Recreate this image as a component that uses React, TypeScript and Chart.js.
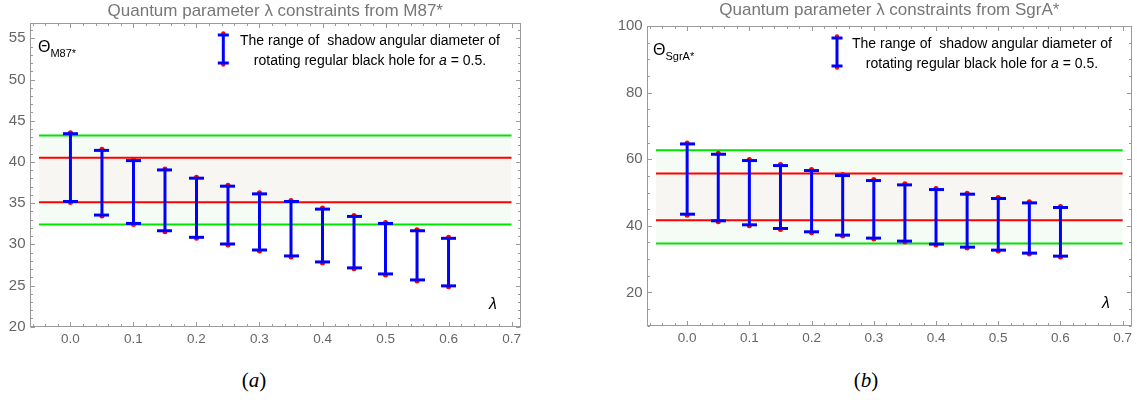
import React, { useEffect, useRef } from "react";
import { Chart, registerables } from "chart.js";

Chart.register(...registerables);
Chart.defaults.font.family = '"Liberation Sans", Arial, sans-serif';

// ---------------- data ----------------
const lambdaValues = [0, 0.05, 0.1, 0.15, 0.2, 0.25, 0.3, 0.35, 0.4, 0.45, 0.5, 0.55, 0.6];

const m87Upper = [43.55, 41.53, 40.28, 39.15, 38.15, 37.18, 36.25, 35.32, 34.4, 33.51, 32.66, 31.77, 30.85];
const m87Lower = [35.08, 33.43, 32.42, 31.53, 30.73, 29.92, 29.19, 28.47, 27.74, 27.02, 26.29, 25.56, 24.84];
const m87OneSigma = [35.1, 40.5];
const m87TwoSigma = [32.4, 43.2];

const sgrUpper = [64.9, 61.8, 59.9, 58.4, 56.9, 55.4, 53.9, 52.6, 51.2, 49.8, 48.5, 47.2, 45.8];
const sgrLower = [43.2, 41.2, 40.0, 38.9, 37.9, 36.9, 36.0, 35.1, 34.2, 33.3, 32.4, 31.5, 30.6];
const sgrOneSigma = [41.7, 55.7];
const sgrTwoSigma = [34.7, 62.7];

const bandRange = [-0.05, 0.7];
const xTickValues = [0, 0.1, 0.2, 0.3, 0.4, 0.5, 0.6, 0.7];
const m87YTicks = [20, 25, 30, 35, 40, 45, 50, 55];
const sgrYTicks = [20, 40, 60, 80, 100];

const legendLine1 = "The range of  shadow angular diameter of";
const legendLine2a = "rotating regular black hole for ";
const legendLine2b = "a";
const legendLine2c = " = 0.5.";

// ---------------- styles ----------------
const BLUE = "#0000ff";
const RED = "#ff0000";
const GREEN = "#00e400";
const GREEN_FILL = "#f5fcf5";
const RED_FILL = "#f8f6f2";
const FRAME = "#9a9a9a";
const FONT = '"Liberation Sans", Arial, sans-serif';
const LEGEND_SIZE = 14;

type PanelSpec = {
  left: number;
  width: number;
  height: number;
  title: string;
  upper: number[];
  lower: number[];
  oneSigma: number[];
  twoSigma: number[];
  yMin: number;
  yMax: number;
  yTicks: number[];
  yMinor: number;
  yMajor: number;
  padRight: number;
  titlePad: { top: number; bottom: number };
  yWidth: number;
  xHeight: number;
  legendIconX: number;
  legendTop: number;
  legendBottom: number;
  legendCX: number;
  legendBase1: number;
  legendBase2: number;
  thetaX: number;
  thetaBase: number;
  thetaSub: string;
  lambdaX: number;
  lambdaY: number;
};

const m87Spec: PanelSpec = {
  left: 0,
  width: 560,
  height: 360,
  title: "Quantum parameter \u03bb constraints from M87*",
  upper: m87Upper,
  lower: m87Lower,
  oneSigma: m87OneSigma,
  twoSigma: m87TwoSigma,
  yMin: 20,
  yMax: 56.9,
  yTicks: m87YTicks,
  yMinor: 1,
  yMajor: 5,
  padRight: 39,
  titlePad: { top: 1.3, bottom: 1.0 },
  yWidth: 29.5,
  xHeight: 33.3,
  legendIconX: 223.3,
  legendTop: 34.5,
  legendBottom: 63.5,
  legendCX: 370,
  legendBase1: 45,
  legendBase2: 65,
  thetaX: 38,
  thetaBase: 52,
  thetaSub: "M87*",
  lambdaX: 493,
  lambdaY: 305,
};

const sgrSpec: PanelSpec = {
  left: 600,
  width: 537,
  height: 360,
  title: "Quantum parameter \u03bb constraints from SgrA*",
  upper: sgrUpper,
  lower: sgrLower,
  oneSigma: sgrOneSigma,
  twoSigma: sgrTwoSigma,
  yMin: 10,
  yMax: 100,
  yTicks: sgrYTicks,
  yMinor: 5,
  yMajor: 20,
  padRight: 4,
  titlePad: { top: 0, bottom: 5.6 },
  yWidth: 46.7,
  xHeight: 34.3,
  legendIconX: 237,
  legendTop: 37.5,
  legendBottom: 66.5,
  legendCX: 382,
  legendBase1: 48.3,
  legendBase2: 68.3,
  thetaX: 53,
  thetaBase: 55,
  thetaSub: "SgrA*",
  lambdaX: 506,
  lambdaY: 304,
};

function makeCap(offset: number): HTMLCanvasElement {
  const c = document.createElement("canvas");
  c.width = 15;
  c.height = 9;
  const g = c.getContext("2d")!;
  g.fillStyle = BLUE;
  // cap bar of 3px thickness, shifted from centre by offset px
  g.fillRect(0, 3 + offset, 15, 3);
  return c;
}

function decorPlugin(spec: PanelSpec) {
  return {
    id: "decor",
    afterDraw(chart: any) {
      const { ctx, chartArea: a } = chart;
      const xs = chart.scales.x;
      const ys = chart.scales.y;
      ctx.save();
      // frame
      ctx.strokeStyle = FRAME;
      ctx.lineWidth = 1;
      const L = Math.round(a.left) + 0.5;
      const R = Math.round(a.right) - 0.5;
      const T = Math.round(a.top) + 0.5;
      const B = Math.round(a.bottom) - 0.5;
      ctx.strokeRect(L, T, R - L, B - T);
      ctx.beginPath();
      // x ticks (bottom & top)
      const xStep = 0.02;
      const xMajor = 0.1;
      for (let k = Math.ceil(xs.min / xStep - 1e-6); k * xStep <= xs.max + 1e-9; k++) {
        const v = k * xStep;
        const major = Math.abs(v / xMajor - Math.round(v / xMajor)) < 1e-6;
        const len = major ? 4.5 : 2.5;
        const p = Math.round(xs.getPixelForValue(v)) + 0.5;
        ctx.moveTo(p, B);
        ctx.lineTo(p, B - len);
        ctx.moveTo(p, T);
        ctx.lineTo(p, T + len);
      }
      // y ticks (left & right)
      for (let k = Math.ceil(ys.min / spec.yMinor - 1e-6); k * spec.yMinor <= ys.max + 1e-9; k++) {
        const v = k * spec.yMinor;
        const major = Math.abs(v / spec.yMajor - Math.round(v / spec.yMajor)) < 1e-6;
        const len = major ? 4.5 : 2.5;
        const p = Math.round(ys.getPixelForValue(v)) + 0.5;
        ctx.moveTo(L, p);
        ctx.lineTo(L + len, p);
        ctx.moveTo(R, p);
        ctx.lineTo(R - len, p);
      }
      ctx.stroke();

      // Theta label
      ctx.fillStyle = "#000";
      ctx.textAlign = "left";
      ctx.textBaseline = "alphabetic";
      ctx.font = `16px ${FONT}`;
      ctx.fillText("\u0398", spec.thetaX, spec.thetaBase);
      const tw = ctx.measureText("\u0398").width;
      ctx.font = `11px ${FONT}`;
      ctx.fillText(spec.thetaSub, spec.thetaX + tw, spec.thetaBase + 4.5);

      // lambda axis label
      ctx.font = `italic 16px ${FONT}`;
      ctx.textAlign = "center";
      ctx.textBaseline = "middle";
      ctx.fillText("\u03bb", spec.lambdaX, spec.lambdaY);

      // legend icon
      const ix = spec.legendIconX;
      ctx.fillStyle = RED;
      ctx.beginPath();
      ctx.arc(ix, spec.legendTop - 1, 2.2, 0, Math.PI * 2);
      ctx.arc(ix, spec.legendBottom + 1, 2.2, 0, Math.PI * 2);
      ctx.fill();
      ctx.strokeStyle = BLUE;
      ctx.lineWidth = 3;
      ctx.beginPath();
      ctx.moveTo(ix, spec.legendTop);
      ctx.lineTo(ix, spec.legendBottom);
      ctx.stroke();
      ctx.fillStyle = BLUE;
      ctx.fillRect(ix - 5.5, spec.legendTop - 1, 11, 3);
      ctx.fillRect(ix - 5.5, spec.legendBottom - 2, 11, 3);

      // legend text
      ctx.fillStyle = "#000";
      ctx.textBaseline = "alphabetic";
      ctx.textAlign = "center";
      ctx.font = `${LEGEND_SIZE}px ${FONT}`;
      ctx.fillText(legendLine1, spec.legendCX, spec.legendBase1);
      ctx.textAlign = "left";
      const wA = ctx.measureText(legendLine2a).width;
      const wC = ctx.measureText(legendLine2c).width;
      ctx.font = `italic ${LEGEND_SIZE}px ${FONT}`;
      const wB = ctx.measureText(legendLine2b).width;
      let sx = spec.legendCX - (wA + wB + wC) / 2;
      ctx.font = `${LEGEND_SIZE}px ${FONT}`;
      ctx.fillText(legendLine2a, sx, spec.legendBase2);
      sx += wA;
      ctx.font = `italic ${LEGEND_SIZE}px ${FONT}`;
      ctx.fillText(legendLine2b, sx, spec.legendBase2);
      sx += wB;
      ctx.font = `${LEGEND_SIZE}px ${FONT}`;
      ctx.fillText(legendLine2c, sx, spec.legendBase2);
      ctx.restore();
    },
  };
}

function buildConfig(spec: PanelSpec, capUp: HTMLCanvasElement, capDown: HTMLCanvasElement): any {
  const hLine = (v: number, color: string, fill: any, bg: string, order: number) => ({
    type: "line",
    data: [
      { x: bandRange[0], y: v },
      { x: bandRange[1], y: v },
    ],
    borderColor: color,
    borderWidth: 2,
    pointRadius: 0,
    fill,
    backgroundColor: bg,
    order,
  });

  const barData = lambdaValues.flatMap((x, i) => [
    { x, y: spec.lower[i] },
    { x, y: spec.upper[i] },
    { x, y: null },
  ]);
  const upperPts = lambdaValues.map((x, i) => ({ x, y: spec.upper[i] }));
  const lowerPts = lambdaValues.map((x, i) => ({ x, y: spec.lower[i] }));

  return {
    type: "line",
    data: {
      datasets: [
        hLine(spec.twoSigma[1], GREEN, { target: 1 }, GREEN_FILL, 6),
        hLine(spec.oneSigma[1], RED, { target: 2 }, RED_FILL, 5),
        hLine(spec.oneSigma[0], RED, { target: 3 }, GREEN_FILL, 4),
        hLine(spec.twoSigma[0], GREEN, false, GREEN_FILL, 3),
        {
          type: "line",
          data: barData,
          borderColor: BLUE,
          borderWidth: 3,
          pointRadius: 0,
          spanGaps: false,
          fill: false,
          order: 2,
        },
        {
          type: "line",
          data: [...upperPts, ...lowerPts],
          showLine: false,
          pointRadius: 2.5,
          pointBackgroundColor: RED,
          pointBorderWidth: 0,
          fill: false,
          order: 1,
        },
        {
          type: "line",
          data: upperPts,
          showLine: false,
          pointStyle: capUp,
          fill: false,
          order: 0,
        },
        {
          type: "line",
          data: lowerPts,
          showLine: false,
          pointStyle: capDown,
          fill: false,
          order: 0,
        },
      ],
    },
    options: {
      responsive: false,
      animation: false,
      devicePixelRatio: 1,
      events: [],
      layout: { padding: { left: 0, right: spec.padRight, top: 0, bottom: 0 } },
      plugins: {
        legend: { display: false },
        tooltip: { enabled: false },
        filler: { drawTime: "beforeDatasetsDraw" },
        title: {
          display: true,
          text: spec.title,
          fullSize: false,
          color: "#777777",
          font: { size: 17, weight: "normal", family: FONT },
          padding: spec.titlePad,
        },
      },
      scales: {
        x: {
          type: "linear",
          min: -0.065,
          max: 0.715,
          grid: { display: false, drawTicks: false },
          border: { display: false },
          afterBuildTicks: (s: any) => {
            s.ticks = xTickValues.map((value) => ({ value }));
          },
          afterFit: (s: any) => {
            s.height = spec.xHeight;
          },
          ticks: {
            color: "#666666",
            font: { size: 13.5, family: FONT },
            padding: 4,
            maxRotation: 0,
            autoSkip: false,
            callback: (v: any) => Number(v).toFixed(1),
          },
        },
        y: {
          type: "linear",
          min: spec.yMin,
          max: spec.yMax,
          grid: { display: false, drawTicks: false },
          border: { display: false },
          afterBuildTicks: (s: any) => {
            s.ticks = spec.yTicks.map((value) => ({ value }));
          },
          afterFit: (s: any) => {
            s.width = spec.yWidth;
          },
          ticks: {
            color: "#666666",
            font: { size: 15, family: FONT },
            padding: 4,
            autoSkip: false,
            callback: (v: any) => String(v),
          },
        },
      },
    },
    plugins: [decorPlugin(spec)],
  };
}

function Panel({ spec }: { spec: PanelSpec }) {
  const ref = useRef<HTMLCanvasElement>(null);
  useEffect(() => {
    const capUp = makeCap(1);
    const capDown = makeCap(-1);
    const chart = new Chart(ref.current!, buildConfig(spec, capUp, capDown));
    return () => chart.destroy();
  }, [spec]);
  return (
    <canvas
      ref={ref}
      width={spec.width}
      height={spec.height}
      style={{ position: "absolute", left: spec.left, top: 0, width: spec.width, height: spec.height }}
    />
  );
}

const captionStyle = (cx: number): React.CSSProperties => ({
  position: "absolute",
  left: cx - 40,
  width: 80,
  top: 367,
  textAlign: "center",
  fontFamily: '"Liberation Serif", "Times New Roman", serif',
  fontSize: 21,
  lineHeight: "26px",
  color: "#000",
});

export default function App() {
  return (
    <div style={{ position: "absolute", left: 0, top: 0, width: 1137, height: 400, background: "#fff", overflow: "hidden" }}>
      <Panel spec={m87Spec} />
      <Panel spec={sgrSpec} />
      <div style={captionStyle(254)}>
        (<i>a</i>)
      </div>
      <div style={captionStyle(866)}>
        (<i>b</i>)
      </div>
    </div>
  );
}
